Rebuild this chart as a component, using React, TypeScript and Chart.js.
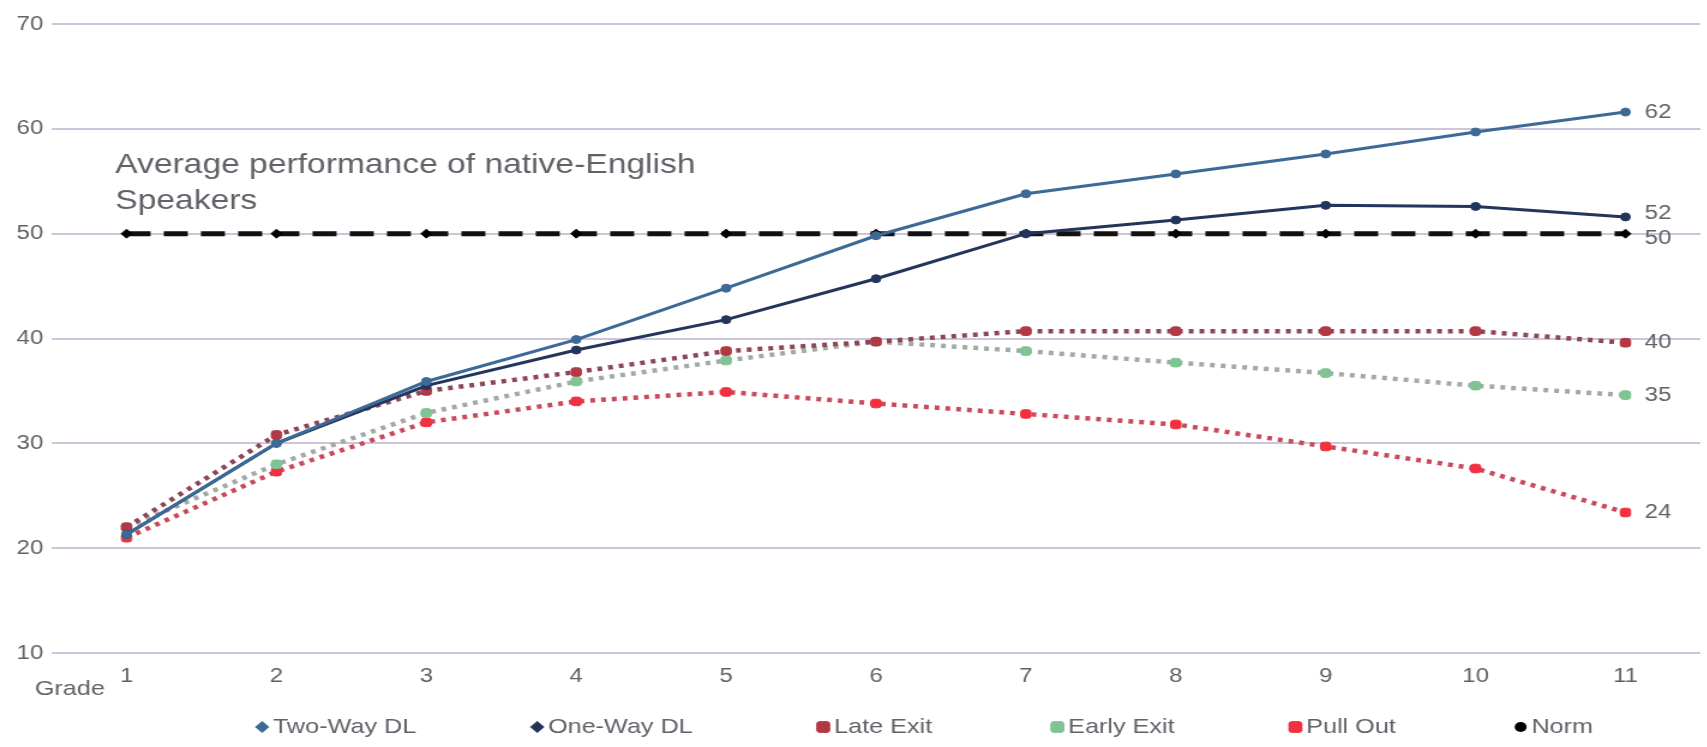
import React, { useEffect, useRef } from 'react';
import { Chart, registerables } from 'chart.js';

Chart.register(...registerables);

// ---------- data ----------
const grades = ['1', '2', '3', '4', '5', '6', '7', '8', '9', '10', '11'];
const twoWayDL = [21.3, 30, 35.9, 39.9, 44.8, 49.8, 53.8, 55.7, 57.6, 59.7, 61.6];
const oneWayDL = [21.3, 30, 35.5, 38.9, 41.8, 45.7, 50, 51.3, 52.7, 52.6, 51.6];
const lateExit = [22, 30.8, 35, 36.8, 38.8, 39.7, 40.7, 40.7, 40.7, 40.7, 39.6];
const earlyExit = [22, 28, 32.9, 35.9, 37.9, 39.7, 38.8, 37.7, 36.7, 35.5, 34.6];
const pullOut = [21, 27.3, 32, 34, 34.9, 33.8, 32.8, 31.8, 29.7, 27.6, 23.4];
const norm = [50, 50, 50, 50, 50, 50, 50, 50, 50, 50, 50];
const seriesNames = ['Two-Way DL', 'One-Way DL', 'Late Exit', 'Early Exit', 'Pull Out', 'Norm'];
const endLabels = ['62', '52', '40', '35', '24', '50'];
const yMin = 10;
const yMax = 70;
const yStep = 10;
const annotationLines = ['Average performance of native-English', 'Speakers'];
const axisTitle = 'Grade';

// ---------- layout / style ----------
const FULL_W = 1707;
const FULL_H = 747;
const STRETCH = 1.2;
const INNER_W = Math.round(FULL_W / STRETCH);
const FONT = '"Liberation Sans", Arial, sans-serif';
const TEXT = '#616168';
const GRID = '#cdc6da';

const lineColors = ['#3d6996', '#22355a', '#8c4656', '#a3aaa6', '#c94a5a', '#111111'];
const markerColors = ['#3d6996', '#22355a', '#b23845', '#7fc494', '#f2303f', '#000000'];
const legendFractions = [0.1535, 0.3146, 0.4821, 0.6192, 0.7586, 0.8905];
const labelDy = [0, -3, 0, 0, 0, 5];

function drawMarker(ctx: CanvasRenderingContext2D, kind: number, x: number, y: number, color: string) {
  ctx.save();
  ctx.fillStyle = color;
  if (kind <= 1) {
    ctx.beginPath();
    ctx.moveTo(x, y - 6);
    ctx.lineTo(x + 6, y);
    ctx.lineTo(x, y + 6);
    ctx.lineTo(x - 6, y);
    ctx.closePath();
    ctx.fill();
  } else if (kind === 5) {
    ctx.beginPath();
    ctx.arc(x, y, 5, 0, Math.PI * 2);
    ctx.fill();
  } else {
    const offs = [[-2, -2], [2, -2], [2, 2], [-2, 2]];
    offs.forEach(([dx, dy]) => {
      ctx.beginPath();
      ctx.arc(x + dx, y + dy, 4, 0, Math.PI * 2);
      ctx.fill();
    });
  }
  ctx.restore();
}

const overlayPlugin = {
  id: 'overlay',
  afterDatasetsDraw(chart: any) {
    const ctx = chart.ctx as CanvasRenderingContext2D;
    chart.data.datasets.forEach((_ds: any, i: number) => {
      const meta = chart.getDatasetMeta(i);
      const pt = meta.data[meta.data.length - 1];
      if (!pt) return;
      ctx.save();
      ctx.font = `20px ${FONT}`;
      ctx.fillStyle = TEXT;
      ctx.textAlign = 'left';
      ctx.textBaseline = 'middle';
      ctx.fillText(endLabels[i], pt.x + 16, pt.y + labelDy[i]);
      ctx.restore();
    });
  },
  afterDraw(chart: any) {
    const ctx = chart.ctx as CanvasRenderingContext2D;
    const w = chart.width;
    ctx.save();
    // annotation
    ctx.font = `28px ${FONT}`;
    ctx.fillStyle = TEXT;
    ctx.textAlign = 'left';
    ctx.textBaseline = 'alphabetic';
    ctx.fillText(annotationLines[0], 96, 173);
    ctx.fillText(annotationLines[1], 96, 209);
    // axis title
    ctx.font = `21px ${FONT}`;
    ctx.textBaseline = 'middle';
    ctx.fillText(axisTitle, 29, 689);
    // legend
    ctx.font = `21px ${FONT}`;
    seriesNames.forEach((name, i) => {
      const x = legendFractions[i] * w;
      const y = 727;
      drawMarker(ctx, i, x, y, markerColors[i]);
      ctx.fillStyle = TEXT;
      ctx.fillText(name, x + 9, y);
    });
    ctx.restore();
  },
};

export default function App() {
  const ref = useRef<HTMLCanvasElement>(null);

  useEffect(() => {
    document.body.style.margin = '0';
    const canvas = ref.current!;
    const series = [twoWayDL, oneWayDL, lateExit, earlyExit, pullOut, norm];
    const datasets = series.map((data, i) => {
      const dotted = i >= 2 && i <= 4;
      const isNorm = i === 5;
      return {
        label: seriesNames[i],
        data,
        borderColor: lineColors[i],
        backgroundColor: markerColors[i],
        pointBackgroundColor: markerColors[i],
        pointBorderColor: markerColors[i],
        borderWidth: isNorm ? 5 : dotted ? 4.5 : 3,
        borderDash: isNorm ? [20, 11] : dotted ? [4, 5] : [],
        borderCapStyle: 'butt',
        pointStyle: isNorm ? 'rectRot' : dotted ? 'rectRounded' : 'circle',
        pointRadius: isNorm ? 4.5 : dotted ? 5 : 4,
        pointBorderWidth: 1,
        tension: 0,
        fill: false,
      };
    });

    const chart = new Chart(canvas, {
      type: 'line',
      data: { labels: grades, datasets: datasets as any },
      options: {
        animation: false,
        responsive: false,
        devicePixelRatio: 1,
        layout: { padding: { top: 24, right: 0, bottom: 0, left: 0 } },
        plugins: {
          legend: { display: false },
          tooltip: { enabled: false },
          title: { display: false },
        },
        scales: {
          x: {
            type: 'category',
            offset: true,
            grid: { display: false, drawTicks: false },
            border: { display: false },
            ticks: {
              color: TEXT,
              font: { family: FONT, size: 20 },
              padding: 11,
              maxRotation: 0,
              autoSkip: false,
            },
            afterFit: (s: any) => {
              s.height = 94;
            },
          },
          y: {
            min: yMin,
            max: yMax,
            grid: { color: GRID, lineWidth: 2, drawTicks: false },
            border: { display: false },
            ticks: {
              stepSize: yStep,
              color: TEXT,
              font: { family: FONT, size: 20 },
              padding: 7,
            },
            afterFit: (s: any) => {
              s.width = 43;
            },
          },
        },
      },
      plugins: [overlayPlugin],
    } as any);

    return () => chart.destroy();
  }, []);

  return (
    <div
      style={{
        position: 'fixed',
        left: 0,
        top: 0,
        width: FULL_W,
        height: FULL_H,
        overflow: 'hidden',
        background: '#ffffff',
      }}
    >
      <div
        style={{
          width: INNER_W,
          height: FULL_H,
          transform: `scaleX(${STRETCH})`,
          transformOrigin: '0 0',
        }}
      >
        <canvas ref={ref} width={INNER_W} height={FULL_H} style={{ display: 'block' }} />
      </div>
    </div>
  );
}
